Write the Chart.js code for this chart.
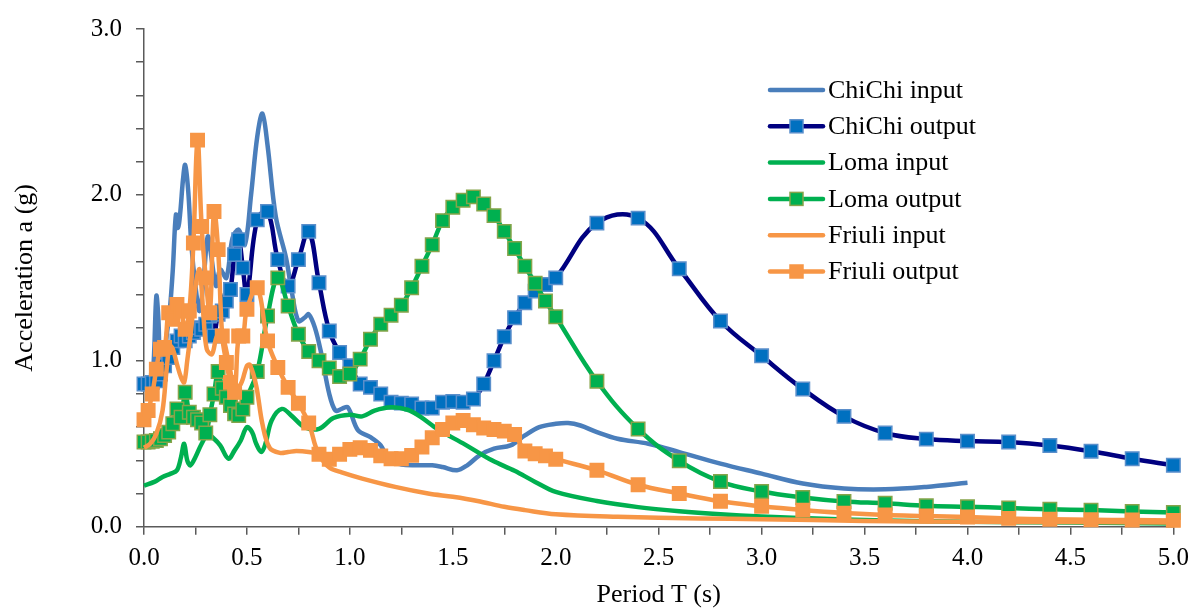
<!DOCTYPE html>
<html>
<head>
<meta charset="utf-8">
<script src="https://cdn.jsdelivr.net/npm/chart.js@4.4.1/dist/chart.umd.min.js"></script>
<style>
  html, body { margin: 0; padding: 0; background: #fff; }
  #wrap { width: 1198px; height: 611px; }
</style>
</head>
<body>
<div id="wrap"><canvas id="chart" width="1198" height="611"></canvas></div>
<script>
// periods shared by the three "output" curves (markers)
const periodOut = [0, 0.02, 0.04, 0.06, 0.08, 0.1, 0.12, 0.14, 0.16, 0.18, 0.2, 0.22, 0.24, 0.26, 0.28, 0.3, 0.32, 0.34, 0.36, 0.38, 0.4, 0.42, 0.44, 0.46, 0.48, 0.5,
  0.55, 0.6, 0.65, 0.7, 0.75, 0.8, 0.85, 0.9, 0.95, 1.0,
  1.05, 1.1, 1.15, 1.2, 1.25, 1.3, 1.35, 1.4, 1.45, 1.5, 1.55, 1.6, 1.65, 1.7, 1.75, 1.8, 1.85, 1.9, 1.95, 2.0,
  2.2, 2.4, 2.6, 2.8, 3.0, 3.2, 3.4, 3.6, 3.8, 4.0, 4.2, 4.4, 4.6, 4.8, 5.0];

const chichiOut = [0.86, 0.86, 0.87, 0.88, 0.92, 0.97, 1.02, 1.08, 1.12, 1.15, 1.12, 1.15, 1.17, 1.2, 1.19, 1.22, 1.27, 1.15, 1.28, 1.3, 1.36, 1.43, 1.64, 1.73, 1.56, 1.4,
  1.85, 1.9, 1.61, 1.45, 1.61, 1.78, 1.47, 1.18, 1.05, 0.97,
  0.86, 0.84, 0.8, 0.75, 0.745, 0.74, 0.715, 0.715, 0.75, 0.755, 0.75, 0.77, 0.86, 1.0, 1.145, 1.26, 1.35, 1.42, 1.46, 1.5,
  1.83, 1.86, 1.555, 1.24, 1.03, 0.83, 0.665, 0.565, 0.528, 0.516, 0.51, 0.49, 0.455, 0.41, 0.37];

const lomaOut = [0.51, 0.51, 0.515, 0.52, 0.53, 0.55, 0.57, 0.62, 0.71, 0.66, 0.81, 0.69, 0.66, 0.645, 0.625, 0.565, 0.675, 0.8, 0.935, 0.835, 0.78, 0.73, 0.68, 0.67, 0.71, 0.78,
  0.935, 1.27, 1.5, 1.33, 1.16, 1.056, 1.0, 0.957, 0.905, 0.92,
  1.01, 1.13, 1.22, 1.275, 1.335, 1.44, 1.57, 1.7, 1.845, 1.925, 1.968, 1.988, 1.945, 1.875, 1.78, 1.677, 1.57, 1.468, 1.36, 1.266,
  0.877, 0.589, 0.397, 0.272, 0.212, 0.176, 0.152, 0.141, 0.126, 0.12, 0.113, 0.105, 0.1, 0.092, 0.086];

const friuliOut = [0.645, 0.7, 0.8, 0.95, 1.07, 1.08, 1.29, 1.25, 1.34, 1.3, 1.19, 1.3, 1.71, 2.33, 1.81, 1.5, 1.29, 1.9, 1.67, 1.15, 0.99, 0.87, 0.81, 1.15, 1.15, 1.31,
  1.44, 1.12, 0.96, 0.84, 0.744, 0.625, 0.437, 0.407, 0.437, 0.466,
  0.476, 0.46, 0.427, 0.41, 0.41, 0.43, 0.48, 0.536, 0.586, 0.625, 0.64, 0.615, 0.595, 0.586, 0.576, 0.556, 0.456, 0.44, 0.427, 0.407,
  0.34, 0.253, 0.2, 0.153, 0.123, 0.1, 0.082, 0.07, 0.064, 0.058, 0.05, 0.045, 0.042, 0.04, 0.038];

// input spectra (plain lines)
const periodChichiIn = [0, 0.03, 0.045, 0.06, 0.07, 0.08, 0.095, 0.11, 0.125, 0.14, 0.155, 0.165, 0.175, 0.19, 0.2, 0.215, 0.23, 0.25, 0.27, 0.29,
  0.31, 0.33, 0.35, 0.37, 0.4, 0.43, 0.46, 0.49, 0.52, 0.55, 0.575, 0.6, 0.64, 0.69, 0.72, 0.75, 0.78, 0.8, 0.83, 0.86,
  0.9, 0.93, 0.96, 0.99, 1.04, 1.1, 1.15, 1.19, 1.25, 1.32, 1.4, 1.45, 1.52, 1.57, 1.63, 1.7, 1.78, 1.85, 1.92, 2.0,
  2.06, 2.12, 2.2, 2.3, 2.45, 2.6, 2.8, 3.0, 3.2, 3.4, 3.6, 3.8, 4.0];
const chichiIn = [0.86, 0.87, 0.95, 1.39, 1.25, 0.9, 0.95, 1.15, 1.3, 1.55, 1.88, 1.8, 1.88, 2.1, 2.18, 2.02, 1.7, 1.45, 1.3, 1.5,
  1.75, 1.6, 1.45, 1.55, 1.5, 1.74, 1.79, 1.7, 2.0, 2.35, 2.49, 2.3, 1.87, 1.62, 1.4, 1.24, 1.26, 1.28, 1.2, 1.05,
  0.8, 0.7, 0.71, 0.72, 0.58, 0.54, 0.49, 0.4, 0.375, 0.37, 0.37, 0.36, 0.34, 0.37, 0.43, 0.47, 0.49, 0.55, 0.6, 0.62,
  0.625, 0.61, 0.57, 0.53, 0.5, 0.45, 0.38, 0.32, 0.26, 0.23, 0.225, 0.24, 0.265];

const periodLomaIn = [0, 0.05, 0.09, 0.13, 0.16, 0.18, 0.195, 0.21, 0.225, 0.25, 0.28, 0.31, 0.34, 0.37, 0.41, 0.44, 0.47, 0.5, 0.525, 0.545,
  0.57, 0.59, 0.62, 0.67, 0.72, 0.78, 0.85, 0.92, 1.0, 1.06, 1.12, 1.2, 1.28, 1.34, 1.43, 1.56, 1.69, 1.8, 1.9, 2.0,
  2.2, 2.4, 2.6, 2.8, 3.0, 3.3, 3.6, 4.0, 4.5, 5.0];
const lomaIn = [0.248, 0.27, 0.3, 0.32, 0.34, 0.42, 0.5, 0.4, 0.37, 0.42, 0.5, 0.555, 0.53, 0.49, 0.41, 0.46, 0.52, 0.6, 0.57, 0.5,
  0.45, 0.5, 0.64, 0.71, 0.665, 0.6, 0.59, 0.655, 0.675, 0.665, 0.7, 0.72, 0.705, 0.665, 0.585, 0.495, 0.4, 0.337, 0.27, 0.21,
  0.155, 0.118, 0.093, 0.075, 0.062, 0.048, 0.038, 0.03, 0.025, 0.02];

const periodFriuliIn = [0, 0.03, 0.06, 0.09, 0.11, 0.125, 0.14, 0.16, 0.18, 0.195, 0.21, 0.23, 0.25, 0.27, 0.29, 0.305, 0.33, 0.355, 0.38, 0.41,
  0.44, 0.47, 0.5, 0.515, 0.545, 0.575, 0.61, 0.66, 0.7, 0.74, 0.8, 0.84, 0.9, 0.96, 1.06, 1.22, 1.38, 1.5, 1.62, 1.75,
  1.85, 2.0, 2.3, 2.7, 3.0, 3.5, 4.0, 4.5, 5.0];
const friuliIn = [0.476, 0.5, 0.56, 0.7, 0.95, 1.09, 1.07, 0.98, 0.9, 0.87, 1.0, 1.2, 1.45, 1.55, 1.25, 1.07, 1.04, 1.15, 1.15, 1.0,
  0.84, 0.86, 0.97, 0.975, 0.85, 0.62, 0.476, 0.445, 0.45, 0.456, 0.45, 0.437, 0.357, 0.327, 0.29, 0.24, 0.2, 0.18, 0.155, 0.12,
  0.1, 0.075, 0.06, 0.05, 0.045, 0.035, 0.03, 0.028, 0.025];

const seriesNames = ["ChiChi input", "ChiChi output", "Loma input", "Loma output", "Friuli input", "Friuli output"];

const FONT = "'Liberation Serif', 'Times New Roman', serif";

const pts = (xs, ys) => xs.map((x, i) => ({ x: x, y: ys[i] }));

function lineSet(name, xs, ys, color, order) {
  return {
    label: name, data: pts(xs, ys), borderColor: color, backgroundColor: color,
    borderWidth: 4.5, pointRadius: 0, tension: 0.35, clip: false, order: order,
    markers: false
  };
}
function markSet(name, xs, ys, line, fill, edge, order) {
  return {
    label: name, data: pts(xs, ys), borderColor: line, backgroundColor: fill,
    borderWidth: 4.5, pointStyle: "rect", pointRadius: 9.5, pointBorderWidth: 1.5,
    pointBackgroundColor: fill, pointBorderColor: edge,
    tension: 0.4, clip: false, order: order, markers: true
  };
}

// custom legend inside the plot, like the original
const legendBox = {
  id: "legendBox",
  afterDraw(chart) {
    const ctx = chart.ctx;
    const x0 = 770, x1 = 823, tx = 828, y0 = 90, dy = 36.3;
    ctx.save();
    chart.data.datasets.forEach((ds, i) => {
      const y = y0 + i * dy;
      ctx.strokeStyle = ds.borderColor;
      ctx.lineWidth = 4.5;
      ctx.lineCap = "round";
      ctx.beginPath();
      ctx.moveTo(x0, y);
      ctx.lineTo(x1, y);
      ctx.stroke();
      if (ds.markers) {
        ctx.fillStyle = ds.pointBackgroundColor;
        ctx.strokeStyle = ds.pointBorderColor;
        ctx.lineWidth = 1.5;
        ctx.fillRect(x0 + 20, y - 6.5, 13, 13);
        ctx.strokeRect(x0 + 20, y - 6.5, 13, 13);
      }
      ctx.fillStyle = "#000";
      ctx.font = "26px " + FONT;
      ctx.textBaseline = "middle";
      ctx.textAlign = "left";
      ctx.fillText(ds.label, tx, y + 1);
    });
    ctx.restore();
  }
};

const near = (v, step) => Math.abs(v / step - Math.round(v / step)) < 1e-6;

new Chart(document.getElementById("chart"), {
  type: "line",
  data: {
    datasets: [
      lineSet(seriesNames[0], periodChichiIn, chichiIn, "#4A7EBB", 6),
      markSet(seriesNames[1], periodOut, chichiOut, "#000080", "#0070C0", "#5B8FCB", 5),
      lineSet(seriesNames[2], periodLomaIn, lomaIn, "#00B050", 4),
      markSet(seriesNames[3], periodOut, lomaOut, "#00B050", "#00B050", "#86A44A", 3),
      lineSet(seriesNames[4], periodFriuliIn, friuliIn, "#F79646", 2),
      markSet(seriesNames[5], periodOut, friuliOut, "#F79646", "#F79646", "#F79646", 1)
    ]
  },
  options: {
    responsive: false,
    animation: false,
    layout: { padding: { top: 22.7, right: 20, bottom: 0, left: 0 } },
    plugins: { legend: { display: false }, tooltip: { enabled: false } },
    scales: {
      x: {
        type: "linear", min: 0, max: 5,
        afterFit: (s) => { s.height = 84.3; },
        border: { display: true, color: "#5a5a5a", width: 1.5 },
        grid: { drawOnChartArea: false, drawTicks: true, tickLength: 8, color: "#5a5a5a", lineWidth: 1.5 },
        ticks: {
          stepSize: 0.25, maxTicksLimit: 100, autoSkip: false, maxRotation: 0, padding: 9,
          color: "#000", font: { family: FONT, size: 25 },
          callback: (v) => near(v, 0.5) ? Number(v).toFixed(1) : ""
        },
        title: { display: true, text: "Period T (s)", color: "#000", font: { family: FONT, size: 26 }, padding: { top: 0, bottom: 0 } }
      },
      y: {
        type: "linear", min: 0, max: 3,
        afterFit: (s) => { s.width = 144; },
        border: { display: true, color: "#5a5a5a", width: 1.5 },
        grid: { drawOnChartArea: false, drawTicks: true, tickLength: 8, color: "#5a5a5a", lineWidth: 1.5 },
        ticks: {
          stepSize: 0.2, maxTicksLimit: 100, autoSkip: false, padding: 14,
          color: "#000", font: { family: FONT, size: 25 },
          callback: (v) => near(v, 1) ? Number(v).toFixed(1) : ""
        },
        title: { display: true, text: "Acceleration a (g)", color: "#000", font: { family: FONT, size: 26 }, padding: { top: 10, bottom: 0 } }
      }
    }
  },
  plugins: [legendBox]
});
</script>
</body>
</html>
